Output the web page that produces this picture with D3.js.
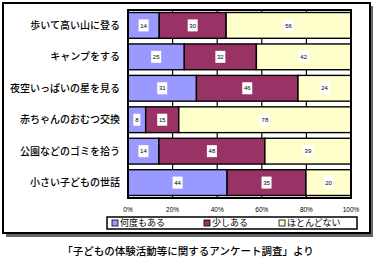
<!DOCTYPE html>
<html>
<head>
<meta charset="utf-8">
<script src="https://cdn.jsdelivr.net/npm/d3@7"></script>
<style>
  body { margin: 0; background: #fff; }
  svg { display: block; font-family: "Noto Sans CJK JP", "Noto Sans", sans-serif; }
</style>
</head>
<body>
<svg width="376" height="267"></svg>
<script>
// Data
var categories = ["歩いて高い山に登る", "キャンプをする", "夜空いっぱいの星を見る",
                  "赤ちゃんのおむつ交換", "公園などのゴミを拾う", "小さい子どもの世話"];
var seriesNames = ["何度もある", "少しある", "ほとんどない"];
var often =  [14, 25, 31, 8, 14, 44];
var little = [30, 32, 46, 15, 48, 35];
var rarely = [56, 42, 24, 78, 39, 20];
var tickLabels = ["0%", "20%", "40%", "60%", "80%", "100%"];
var caption = "「子どもの体験活動等に関するアンケート調査」より";

var colors = ["#9999ff", "#993366", "#ffffcc"];

// Layout
var plot = {left: 128, right: 351, top: 10, bottom: 198};

var rows = categories.map(function (c, i) {
  return {cat: c, s0: often[i], s1: little[i], s2: rarely[i]};
});
var stack = d3.stack().keys(["s0", "s1", "s2"]).offset(d3.stackOffsetExpand);
var layers = stack(rows);

var x = d3.scaleLinear().domain([0, 1]).range([plot.left, plot.right]);
var y = d3.scaleBand().domain(categories).range([plot.top, plot.bottom])
  .paddingInner(0.18).paddingOuter(0.08);
var color = d3.scaleOrdinal().domain(["s0", "s1", "s2"]).range(colors);

var svg = d3.select("svg");

// outer frame with shadow
svg.append("rect").attr("x", 6).attr("y", 6).attr("width", 367).attr("height", 231)
  .attr("fill", "#666");
svg.append("rect").attr("x", 3).attr("y", 3).attr("width", 367).attr("height", 230)
  .attr("fill", "#fff").attr("stroke", "#000").attr("stroke-width", 2);

// gridlines
svg.append("g").selectAll("line")
  .data(x.ticks(5))
  .enter().append("line")
  .attr("x1", function (d) { return x(d); })
  .attr("x2", function (d) { return x(d); })
  .attr("y1", plot.top).attr("y2", plot.bottom)
  .attr("stroke", "#000").attr("stroke-width", 1.2);

// bars
var layer = svg.append("g").selectAll("g")
  .data(layers)
  .enter().append("g")
  .attr("fill", function (d) { return color(d.key); });

layer.selectAll("rect")
  .data(function (d) { return d; })
  .enter().append("rect")
  .attr("x", function (d) { return x(d[0]); })
  .attr("width", function (d) { return x(d[1]) - x(d[0]); })
  .attr("y", function (d) { return y(d.data.cat); })
  .attr("height", y.bandwidth())
  .attr("stroke", "#000").attr("stroke-width", 1.4);

// value labels
var labels = svg.append("g").selectAll("g")
  .data(layers)
  .enter().append("g")
  .selectAll("g")
  .data(function (d) {
    return d.map(function (p) { return {p: p, v: p.data[d.key]}; });
  })
  .enter().append("g")
  .attr("transform", function (d) {
    return "translate(" + [x((d.p[0] + d.p[1]) / 2), y(d.p.data.cat) + y.bandwidth() / 2] + ")";
  });
labels.append("rect")
  .attr("x", function (d) { return String(d.v).length > 1 ? -5 : -3.5; })
  .attr("y", -6)
  .attr("width", function (d) { return String(d.v).length > 1 ? 10 : 7; })
  .attr("height", 12)
  .attr("fill", "#fff");
labels.append("text")
  .attr("text-anchor", "middle")
  .attr("dy", "0.35em")
  .style("font-size", "6px")
  .style("font-family", "Arial, 'Liberation Sans', sans-serif")
  .text(function (d) { return d.v; });

// plot border
svg.append("rect")
  .attr("x", plot.left).attr("y", plot.top)
  .attr("width", plot.right - plot.left).attr("height", plot.bottom - plot.top)
  .attr("fill", "none").attr("stroke", "#000").attr("stroke-width", 2);

// category labels
svg.append("g").selectAll("text")
  .data(categories)
  .enter().append("text")
  .attr("x", 120)
  .attr("y", function (d) { return y(d) + y.bandwidth() / 2; })
  .attr("dy", "0.35em")
  .attr("text-anchor", "end")
  .style("font-size", "10px")
  .style("font-weight", 500)
  .text(function (d) { return d; });

// x tick labels
svg.append("g").selectAll("text")
  .data(x.ticks(5))
  .enter().append("text")
  .attr("x", function (d) { return x(d); })
  .attr("y", 212)
  .attr("text-anchor", "middle")
  .style("font-size", "6.5px")
  .style("font-family", "Arial, 'Liberation Sans', sans-serif")
  .text(function (d, i) { return tickLabels[i]; });

// legend
var legend = svg.append("g");
legend.append("rect")
  .attr("x", 107).attr("y", 217).attr("width", 250).attr("height", 12)
  .attr("fill", "#fff").attr("stroke", "#000").attr("stroke-width", 1.5);
var legendX = [112, 204, 279];
var item = legend.selectAll("g.item")
  .data(seriesNames)
  .enter().append("g")
  .attr("class", "item")
  .attr("transform", function (d, i) { return "translate(" + [legendX[i], 223] + ")"; });
item.append("rect")
  .attr("x", 0).attr("y", -3).attr("width", 6).attr("height", 6)
  .attr("fill", function (d, i) { return colors[i]; })
  .attr("stroke", "#000").attr("stroke-width", 0.8);
item.append("text")
  .attr("x", 8).attr("dy", "0.35em")
  .style("font-size", "9px")
  .text(function (d) { return d; });

// caption
svg.append("text")
  .attr("x", 188).attr("y", 255)
  .attr("text-anchor", "middle")
  .style("font-size", "10.5px")
  .style("font-weight", 500)
  .text(caption);
</script>
</body>
</html>
